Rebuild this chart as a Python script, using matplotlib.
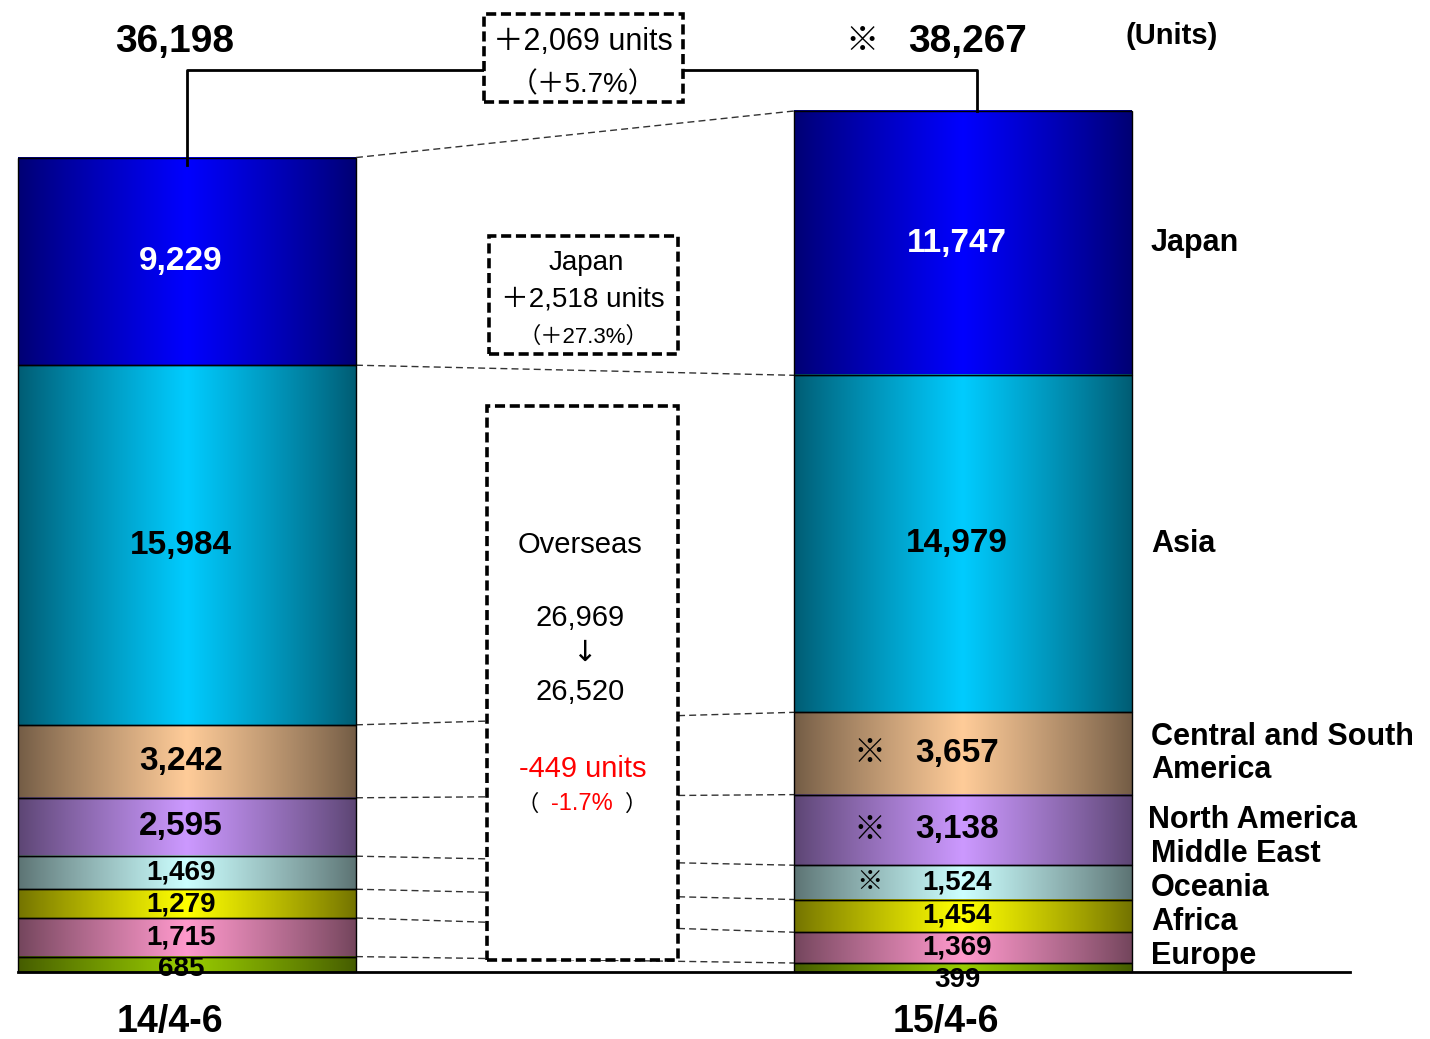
import matplotlib.pyplot as plt
import numpy as np
from matplotlib.colors import to_rgb
from matplotlib.patches import Rectangle

regions = ['Japan', 'Asia', 'Central and South\nAmerica', 'North America',
           'Middle East', 'Oceania', 'Africa', 'Europe']
periods = ['14/4-6', '15/4-6']
units_14 = [9229, 15984, 3242, 2595, 1469, 1279, 1715, 685]
units_15 = [11747, 14979, 3657, 3138, 1524, 1454, 1369, 399]
marked_15 = [False, False, True, True, True, False, False, False]  # ※ figures
seg_colors = ['#0000ff', '#00ccff', '#ffcc99', '#cc99ff',
              '#ccffff', '#ffff00', '#ff99cc', '#99cc00']

total_14 = sum(units_14)
total_15 = sum(units_15)
over_14 = total_14 - units_14[0]
over_15 = total_15 - units_15[0]

SANS = ['Liberation Sans', 'Noto Sans CJK JP', 'DejaVu Sans']
NARROW = ['Liberation Sans Narrow', 'Liberation Sans', 'Noto Sans CJK JP', 'DejaVu Sans']

K = 0.0225  # pixels per unit

fig = plt.figure(figsize=(14.3, 10.39), dpi=100)
ax = fig.add_axes([0, 0, 1, 1])


def yp(row):
    # pixel row from the top -> units
    return (972 - row) / K


def gradient(col):
    c = np.array(to_rgb(col))
    e = c * 0.45
    u = np.linspace(0, 1, 300)
    t = (1 - np.abs(2 * u - 1)) ** 0.9
    return (e + (c - e) * t[:, None])[None, :, :]


def spread_down(centers, gap):
    # walk from the top segment down, pushing labels lower when they crowd
    pos = list(centers)
    for i in range(1, len(pos)):
        pos[i] = min(centers[i], pos[i - 1] - gap)
    return pos


def spread_up(centers, gaps, floor):
    # walk from the bottom up, pushing labels higher when they crowd
    pos = list(centers)
    prev = None
    for i in range(len(pos) - 1, -1, -1):
        lo = floor if prev is None else prev + gaps[i]
        pos[i] = max(centers[i], lo)
        prev = pos[i]
    return pos


bar_x = [187, 963]
bar_w = 338
tops = []
for k, (xc, vals) in enumerate(zip(bar_x, [units_14, units_15])):
    cum = np.cumsum(vals[::-1])[::-1]
    bottoms = cum - np.array(vals)
    tops.append(cum)
    bars = ax.bar([xc] * len(vals), vals, bottom=bottoms, width=bar_w,
                  facecolor='none', edgecolor='black', linewidth=1, zorder=3)
    label_y = spread_down(bottoms + np.array(vals) / 2, 32 / K)
    for i, (b, col) in enumerate(zip(bars, seg_colors)):
        x0, y0 = b.get_x(), b.get_y()
        ax.imshow(gradient(col), extent=(x0, x0 + b.get_width(), y0, y0 + b.get_height()),
                  aspect='auto', interpolation='bilinear', zorder=2)
        fs = 24 if vals[i] * K > 50 else 20
        ax.text(xc - 6, label_y[i], f'{vals[i]:,}', ha='center', va='center',
                fontsize=fs, fontweight='bold', family=SANS,
                color='white' if i == 0 else 'black', zorder=5)
        if k == 1 and marked_15[i]:
            ax.text(870, label_y[i], '※', ha='center', va='center', fontsize=fs - 1,
                    family=['Noto Sans CJK JP'], zorder=5)
    ax.text(xc - 17, yp(1022), periods[k], ha='center', va='center',
            fontsize=27, fontweight='bold', family=NARROW)

# dashed links between matching boundaries
left_edge = bar_x[0] + bar_w / 2
right_edge = bar_x[1] - bar_w / 2
for a, b in zip(tops[0], tops[1]):
    ax.plot([left_edge, right_edge], [a, b], color='#333333', lw=1,
            ls=(0, (5, 3)), zorder=1)

# total bracket
ax.plot([187, 187, 977, 977], [total_14 - 350, yp(70), yp(70), total_15],
        color='black', lw=2, zorder=4)

# baseline
ax.plot([18, 1350], [0, 0], color='black', lw=2, zorder=6)

# headers
ax.text(175, yp(42), f'{total_14:,}', ha='center', va='center', fontsize=28,
        fontweight='bold', family=NARROW)
ax.text(862, yp(42), '※', ha='center', va='center', fontsize=24,
        family=['Noto Sans CJK JP'])
ax.text(968, yp(42), f'{total_15:,}', ha='center', va='center', fontsize=28,
        fontweight='bold', family=NARROW)
ax.text(1172, yp(36), '(Units)', ha='center', va='center', fontsize=21,
        fontweight='bold', family=NARROW)

# region names next to the right bar
centers15 = tops[1] - np.array(units_15) / 2
name_gaps = [(52 if '\n' in r else 34) / K for r in regions]
name_y = spread_up(centers15, name_gaps, 16 / K)
for i, name in enumerate(regions):
    ax.text(1148 if name == 'North America' else 1151, name_y[i], name,
            ha='left', va='center', fontsize=22, fontweight='bold',
            family=SANS, linespacing=1.15)


def dashed_box(x0, x1, r0, r1):
    ax.add_patch(Rectangle((x0, yp(r1)), x1 - x0, yp(r0) - yp(r1),
                           facecolor='white', edgecolor='black', lw=2.6,
                           ls=(0, (2.8, 1.3)), zorder=7))


# total change
diff = total_15 - total_14
dashed_box(484, 683, 14, 102)
ax.text(583, yp(42), f'＋{diff:,} units', ha='center', va='center',
        fontsize=22, family=NARROW, zorder=8)
ax.text(583, yp(85), f'（＋{diff / total_14 * 100:.1f}%）', ha='center',
        va='center', fontsize=20, family=NARROW, zorder=8)

# Japan change
jdiff = units_15[0] - units_14[0]
dashed_box(489, 678, 236, 354)
ax.text(586, yp(263), 'Japan', ha='center', va='center', fontsize=20,
        family=SANS, zorder=8)
ax.text(583, yp(300), f'＋{jdiff:,} units', ha='center', va='center',
        fontsize=20, family=SANS, zorder=8)
ax.text(583, yp(337), f'（＋{jdiff / units_14[0] * 100:.1f}%）', ha='center',
        va='center', fontsize=16, family=SANS, zorder=8)

# overseas change
odiff = over_15 - over_14
dashed_box(487, 678, 406, 960)
ax.text(580, yp(545), 'Overseas', ha='center', va='center', fontsize=21,
        family=SANS, zorder=8)
ax.text(580, yp(618), f'{over_14:,}', ha='center', va='center', fontsize=21,
        family=SANS, zorder=8)
ax.text(584, yp(653), '↓', ha='center', va='center', fontsize=21,
        family=['DejaVu Sans'], zorder=8)
ax.text(580, yp(692), f'{over_15:,}', ha='center', va='center', fontsize=21,
        family=SANS, zorder=8)
ax.text(583, yp(769), f'{odiff:,} units', ha='center', va='center',
        fontsize=21, family=SANS, color='red', zorder=8)
ax.text(528, yp(804), '（', ha='center', va='center', fontsize=16,
        family=['Noto Sans CJK JP'], zorder=8)
ax.text(582, yp(804), f'{odiff / over_14 * 100:.1f}%', ha='center',
        va='center', fontsize=17, family=SANS, color='red', zorder=8)
ax.text(636, yp(804), '）', ha='center', va='center', fontsize=16,
        family=['Noto Sans CJK JP'], zorder=8)

ax.set_xlim(0, 1430)
ax.set_ylim(-67 / K, 972 / K)
ax.axis('off')

fig.savefig('out.png', dpi=100, facecolor='white')
